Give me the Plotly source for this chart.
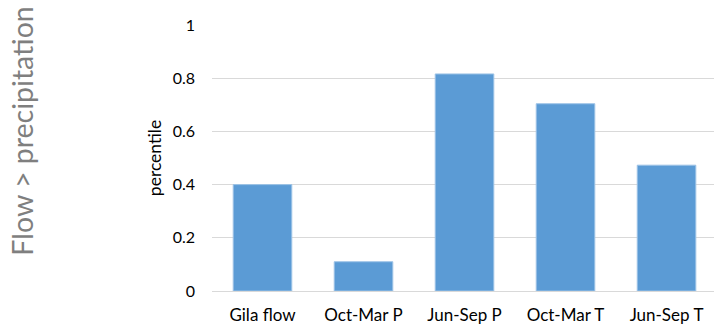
import plotly.graph_objects as go

# Percentile values for each variable
categories = ["Gila flow", "Oct-Mar P", "Jun-Sep P", "Oct-Mar T", "Jun-Sep T"]
percentiles = [0.40, 0.11, 0.816, 0.704, 0.473]
y_ticks = [0, 0.2, 0.4, 0.6, 0.8, 1]
y_tick_labels = ["0", "0.2", "0.4", "0.6", "0.8", "1"]

font_family = "Lato, 'Open Sans', sans-serif"

fig = go.Figure(
    go.Bar(
        x=categories,
        y=percentiles,
        marker=dict(color="#5B9BD5", line=dict(color="#9DC3E6", width=1)),
        width=0.58,
    )
)

fig.update_layout(
    width=714,
    height=327,
    margin=dict(l=212, r=0, t=25, b=36),
    paper_bgcolor="white",
    plot_bgcolor="white",
    showlegend=False,
    font=dict(family=font_family, color="#000000"),
    xaxis=dict(
        range=[-0.5, 4.47],
        showgrid=False,
        showline=False,
        tickfont=dict(size=17, color="#000000"),
        ticklabelstandoff=12,
    ),
    yaxis=dict(
        range=[0, 1.0],
        tickvals=y_ticks,
        ticktext=y_tick_labels,
        showgrid=True,
        gridcolor="#D9D9D9",
        gridwidth=1,
        zeroline=True,
        zerolinecolor="#D9D9D9",
        zerolinewidth=1,
        showline=False,
        tickfont=dict(size=16, color="#000000"),
        ticklabelstandoff=16,
        title=dict(text="percentile", font=dict(size=17.5, color="#000000"), standoff=6),
    ),
    annotations=[
        dict(
            text="Flow > precipitation",
            xref="paper",
            yref="paper",
            x=-0.378,
            y=0.60,
            xanchor="center",
            yanchor="middle",
            textangle=-90,
            showarrow=False,
            font=dict(size=28.5, color="#7F7F7F", family=font_family),
        )
    ],
)

fig.write_html("out.html")
